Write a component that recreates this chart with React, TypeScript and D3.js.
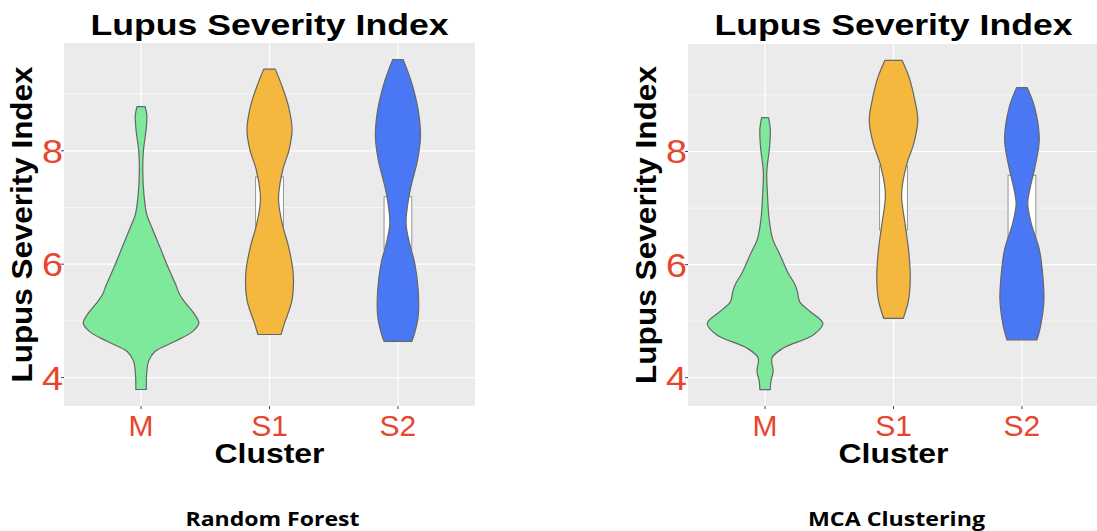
import React from "react";
import * as d3 from "d3";

const categories = ["M", "S1", "S2"];
const fills = ["#7ee89b", "#f5b83e", "#4a78f4"];
const yTicks = [4, 6, 8];
const yMinor = [5, 7, 9];

// [severity index, relative density]
const rfM = [
    [3.79, 0.09], [4.11, 0.10], [4.29, 0.13], [4.46, 0.24], [4.64, 0.59], [4.82, 0.90],
    [4.96, 1.00], [5.11, 0.93], [5.29, 0.79], [5.46, 0.67], [5.64, 0.60], [5.94, 0.47],
    [6.29, 0.33], [6.64, 0.19], [6.87, 0.10], [7.22, 0.05], [7.64, 0.03], [7.99, 0.04],
    [8.40, 0.09], [8.63, 0.10], [8.78, 0.07],
];
const rfS1 = [
    [4.76, 0.20], [4.96, 0.26], [5.37, 0.39], [5.84, 0.41], [6.31, 0.33], [6.67, 0.23],
    [7.08, 0.16], [7.25, 0.16], [7.67, 0.23], [8.02, 0.34], [8.37, 0.39], [8.78, 0.33],
    [9.13, 0.22], [9.44, 0.10],
];
const rfS2 = [
    [4.64, 0.24], [4.79, 0.29], [5.08, 0.35], [5.55, 0.35], [6.02, 0.29], [6.37, 0.20],
    [6.72, 0.14], [7.19, 0.19], [7.43, 0.24], [7.84, 0.34], [8.25, 0.39], [8.72, 0.35],
    [9.19, 0.24], [9.61, 0.09],
];
const mcaM = [
    [3.79, 0.09], [3.93, 0.10], [4.11, 0.14], [4.35, 0.12], [4.52, 0.31], [4.76, 0.84],
    [4.96, 1.00], [5.17, 0.78], [5.34, 0.60], [5.52, 0.56], [5.64, 0.52], [5.87, 0.39],
    [6.17, 0.26], [6.46, 0.13], [6.81, 0.07], [7.28, 0.04], [7.64, 0.03], [8.10, 0.08],
    [8.40, 0.09], [8.60, 0.06],
];
const mcaS1 = [
    [5.05, 0.17], [5.37, 0.26], [5.79, 0.29], [6.26, 0.26], [6.72, 0.20], [7.25, 0.14],
    [7.78, 0.23], [8.14, 0.35], [8.55, 0.42], [8.90, 0.37], [9.31, 0.27], [9.61, 0.15],
];
const mcaS2 = [
    [4.67, 0.26], [4.90, 0.32], [5.36, 0.38], [5.81, 0.36], [6.27, 0.30], [6.73, 0.16],
    [7.07, 0.10], [7.30, 0.13], [7.75, 0.23], [8.21, 0.30], [8.78, 0.22], [9.13, 0.09],
];

// boxplot boxes (Q1, Q3) sitting behind the violins
const rfBoxes = [null, [6.66, 7.54], [6.26, 7.19]];
const mcaBoxes = [null, [6.61, 7.75], [6.44, 7.58]];
const boxWidth = 0.24;

const allValues = [rfM, rfS1, rfS2, mcaM, mcaS1, mcaS2].flat().map(d => d[0]);
const ext = d3.extent(allValues);
const pad = (ext[1] - ext[0]) * 0.05;
const yDomain = [ext[0] - pad, ext[1] + pad];

const red = "#e8452c";
const font = "'Liberation Sans', Arial, sans-serif";

const Panel = ({ left, right, top, bottom, violins, boxes, caption, captionLen, yLabelLen }) => {
    const x = d3.scalePoint().domain(categories).range([left, right]).padding(0.6);
    const y = d3.scaleLinear().domain(yDomain).range([bottom, top]);
    const w = d3.scaleLinear().domain([0, 1]).range([0, x.step() * 0.45]);
    const cx = (left + right) / 2;

    return (
        <g>
            <rect x={left} y={top} width={right - left} height={bottom - top} fill="#ebebeb" />
            {yMinor.map(t => (
                <line key={'mi' + t} x1={left} x2={right} y1={y(t)} y2={y(t)} stroke="#fff" strokeWidth={0.6} />
            ))}
            {yTicks.map(t => (
                <line key={'ma' + t} x1={left} x2={right} y1={y(t)} y2={y(t)} stroke="#fff" strokeWidth={1.2} />
            ))}
            {categories.map(c => (
                <line key={'v' + c} x1={x(c)} x2={x(c)} y1={top} y2={bottom} stroke="#fff" strokeWidth={1.2} />
            ))}

            {categories.map((c, i) => {
                const b = boxes[i];
                if (!b) return null;
                return (
                    <rect key={'box' + c}
                        x={x(c) - w(boxWidth)} width={w(boxWidth) * 2}
                        y={y(b[1])} height={y(b[0]) - y(b[1])}
                        fill="#fff" stroke="#8a8a8a" strokeWidth={0.9} />
                );
            })}

            {categories.map((c, i) => {
                const area = d3.area()
                    .y(d => y(d[0]))
                    .x0(d => x(c) - w(d[1]))
                    .x1(d => x(c) + w(d[1]))
                    .curve(d3.curveCatmullRom);
                return (
                    <path key={'vio' + c} d={area(violins[i])} fill={fills[i]}
                        stroke="#666" strokeWidth={1.2} strokeLinejoin="round" />
                );
            })}

            {yTicks.map(t => (
                <g key={'yt' + t}>
                    <line x1={left - 3} x2={left} y1={y(t)} y2={y(t)} stroke="#444" strokeWidth={1} />
                    <text x={left - 1} y={y(t) + 12} textAnchor="end" fill={red}
                        fontFamily={font} fontSize={33} textLength={21} lengthAdjust="spacingAndGlyphs">{t}</text>
                </g>
            ))}
            {categories.map(c => (
                <g key={'xt' + c}>
                    <line x1={x(c)} x2={x(c)} y1={bottom} y2={bottom + 3} stroke="#444" strokeWidth={1} />
                    <text x={x(c)} y={bottom + 30} textAnchor="middle" fill={red}
                        fontFamily={font} fontSize={30}>{c}</text>
                </g>
            ))}

            <text x={cx} y={35} textAnchor="middle" fontFamily={font} fontWeight="bold"
                fontSize={30} textLength={358} lengthAdjust="spacingAndGlyphs">
                {'Lupus Severity Index'}
            </text>
            <text transform={`translate(${left - 32},${(top + bottom) / 2}) rotate(-90)`}
                textAnchor="middle" fontFamily={font} fontWeight="bold" fontSize={29}
                textLength={yLabelLen} lengthAdjust="spacingAndGlyphs">
                {'Lupus Severity Index'}
            </text>
            <text x={cx} y={bottom + 57} textAnchor="middle" fontFamily={font} fontWeight="bold"
                fontSize={27} textLength={110} lengthAdjust="spacingAndGlyphs">
                {'Cluster'}
            </text>
            <text x={cx + 3} y={526} textAnchor="middle" fontFamily="'Open Sans', sans-serif"
                fontWeight="bold" fontSize={20} textLength={captionLen} lengthAdjust="spacingAndGlyphs">
                {caption}
            </text>
        </g>
    );
};

export default function App() {
    return (
        <svg width={1097} height={531} style={{ position: 'absolute', left: 0, top: 0, background: '#fff' }}>
            <Panel left={64} right={475} top={43} bottom={406}
                violins={[rfM, rfS1, rfS2]} boxes={rfBoxes}
                caption="Random Forest" captionLen={174} yLabelLen={316} />
            <Panel left={688} right={1099} top={44} bottom={406}
                violins={[mcaM, mcaS1, mcaS2]} boxes={mcaBoxes}
                caption="MCA Clustering" captionLen={177} yLabelLen={318} />
        </svg>
    );
}
